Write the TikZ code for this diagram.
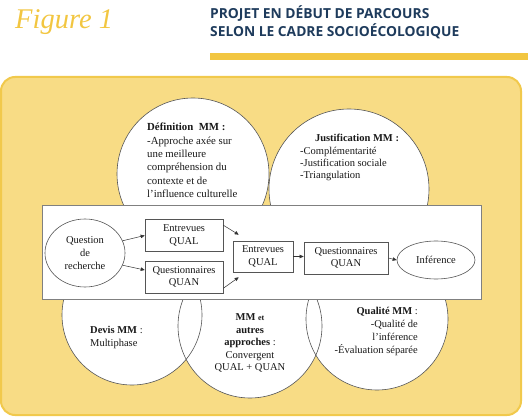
\documentclass[tikz,border=0pt]{standalone}
\usepackage{fontspec}
\setmainfont{Liberation Serif}
\newfontfamily\headfont{Open Sans}
\usetikzlibrary{shapes.geometric,arrows.meta}
\definecolor{ygold}{HTML}{F2C641}
\definecolor{yfill}{HTML}{F8DC85}
\definecolor{yedge}{HTML}{F1C94C}
\definecolor{navy}{HTML}{1E3B5C}
\definecolor{lgray}{HTML}{555555}
\tikzset{
  ctext/.style={inner sep=0pt, font=\fontsize{10.5}{13.2}\selectfont, text=black!90},
  ibox/.style={draw=lgray, line width=0.6pt, fill=white, inner sep=0pt, align=center, font=\fontsize{10.5}{12.5}\selectfont, text=black!90},
  iell/.style={ellipse, draw=lgray, line width=0.6pt, fill=white, inner sep=0pt, align=center, font=\fontsize{10.5}{13}\selectfont, text=black!90},
  arr/.style={draw=black!80, line width=0.5pt, -{Triangle[length=4pt,width=3.5pt]}},
  circfill/.style={fill=white},
  circline/.style={draw=lgray, line width=0.6pt}
}
\begin{document}
\begin{tikzpicture}[x=1pt,y=-1pt]
\useasboundingbox (0,0) rectangle (528,417);
% header
\node[anchor=base west, inner sep=0pt, text=ygold, font=\fontsize{28.5}{30}\selectfont\itshape] (fig) at (15,29) {Figure 1};
\node[anchor=base west, inner sep=0pt, text=navy, font=\headfont\bfseries\fontsize{13.8}{18}\selectfont, align=left] (head) at (210,37) {PROJET EN DÉBUT DE PARCOURS\\SELON LE CADRE SOCIOÉCOLOGIQUE};
\fill[ygold] (210,53) rectangle (528,60);
% yellow panel
\draw[fill=yfill, draw=yedge, line width=2pt, rounded corners=14pt] (1,77) rectangle (521,415);
% circle centres
\coordinate (cdef) at (193,174);
\coordinate (cjus) at (349,189);
\coordinate (cdev) at (132,315);
\coordinate (cmm) at (250,326);
\coordinate (cqua) at (377,319);
% circle fills
\path[circfill] (cdef) circle[radius=76];
\path[circfill] (cjus) circle[radius=80];
\path[circfill] (cdev) circle[radius=70];
\path[circfill] (cmm) circle[radius=72];
\path[circfill] (cqua) circle[radius=71];
% circle outlines
\path[circline] (cdef) circle[radius=76];
\path[circline] (cjus) circle[radius=80];
\path[circline] (cdev) circle[radius=70];
\path[circline] (cmm) circle[radius=72];
\path[circline] (cqua) circle[radius=71];
% circle texts
\node[ctext, anchor=west, align=left, font=\fontsize{10.8}{13.4}\selectfont] (tdef) at (147,160.5) {\textbf{Définition~~MM :}\\-Approche axée sur\\une meilleure\\compréhension~du\\contexte et de\\l’influence culturelle};
\node[ctext, anchor=center] (tjust) at (357,138) {\textbf{Justification MM :}};
\node[ctext, anchor=west, align=left, font=\fontsize{10.5}{12}\selectfont] (tjus) at (300,164) {-Complémentarité\\-Justification sociale\\-Triangulation};
\node[ctext, anchor=west, align=left, font=\fontsize{10.5}{13}\selectfont] (tdev) at (90,337.5) {\textbf{Devis MM} :\\Multiphase};
\node[ctext, anchor=center, align=center, font=\fontsize{10.5}{12.5}\selectfont] (tmm) at (250,343) {\textbf{MM} {\footnotesize\textbf{et}}\\\textbf{autres}\\\textbf{approches} :\\Convergent\\QUAL + QUAN};
\node[ctext, anchor=east, align=right, font=\fontsize{10.5}{13}\selectfont] (tqua) at (418,331.5) {\textbf{Qualité MM} :\\-Qualité de\\l’inférence\\-Évaluation séparée};
% white panel
\draw[fill=white, draw=gray, line width=0.7pt] (42,205) rectangle (481,299);
% inner diagram
\node[iell, minimum width=80pt, minimum height=68pt] (eq) at (85,253) {Question\\de\\recherche};
\node[ibox, minimum width=78pt, minimum height=32pt] (b1) at (184,235.5) {Entrevues\\QUAL};
\node[ibox, minimum width=78pt, minimum height=32pt] (b2) at (184,277) {Questionnaires\\QUAN};
\node[ibox, minimum width=60pt, minimum height=31pt] (b3) at (263,256.5) {Entrevues\\QUAL};
\node[ibox, minimum width=84pt, minimum height=32pt] (b4) at (346,258) {Questionnaires\\QUAN};
\node[iell, minimum width=78pt, minimum height=38pt] (einf) at (436,260) {Inférence};
\draw[arr] (eq.18) -- (b1.west);
\draw[arr] (eq.-18) -- ([yshift=7pt]b2.west);
\draw[arr] ([yshift=-6pt]b1.north east) -- ([xshift=6pt,yshift=6pt]b3.north west);
\draw[arr] ([yshift=5pt]b2.south east) -- ([xshift=6pt,yshift=-5pt]b3.south west);
\draw[arr] (b3.east) -- (b3.east -| b4.west);
\draw[arr] (b4.east) -- (einf.west);
\end{tikzpicture}
\end{document}
